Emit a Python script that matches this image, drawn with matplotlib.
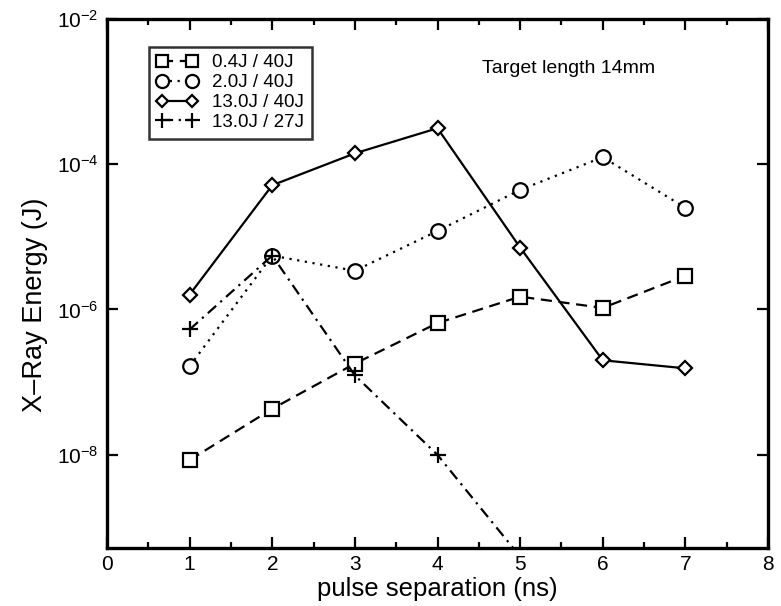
import matplotlib
matplotlib.use("Agg")
import matplotlib.pyplot as plt
from matplotlib.ticker import FixedLocator, MultipleLocator, NullLocator

plt.rcParams['font.family'] = ['Liberation Sans', 'DejaVu Sans']
plt.rcParams['mathtext.fontset'] = 'custom'
plt.rcParams['mathtext.rm'] = 'Liberation Sans'
plt.rcParams['mathtext.it'] = 'Liberation Sans:italic'

x = [1, 2, 3, 4, 5, 6, 7]
e_04_40 = [8.5e-9, 4.3e-8, 1.8e-7, 6.5e-7, 1.5e-6, 1.05e-6, 2.9e-6]
e_20_40 = [1.66e-7, 5.5e-6, 3.4e-6, 1.2e-5, 4.4e-5, 1.24e-4, 2.5e-5]
e_130_40 = [1.6e-6, 5.1e-5, 1.4e-4, 3.1e-4, 7.1e-6, 2.0e-7, 1.55e-7]
x_plus = [1, 2, 3, 4, 5]
e_130_27 = [5.3e-7, 5.5e-6, 1.24e-7, 1.0e-8, 4e-10]
labels = ['0.4J / 40J', '2.0J / 40J', '13.0J / 40J', '13.0J / 27J']

fig = plt.figure(figsize=(7.81, 6.06), dpi=100)
ax = fig.add_axes([107/781, 1 - 548/606, (768 - 107)/781, (548 - 18.5)/606])

lw = 1.6
mew = 1.6
ax.plot(x, e_04_40, linestyle=(0, (5, 3)), color='black', lw=lw, marker='s',
        ms=9.5, mfc='white', mec='black', mew=mew, label=labels[0])
ax.plot(x, e_20_40, linestyle=(0, (1, 2.5)), color='black', lw=lw, marker='o',
        ms=10.5, mfc='white', mec='black', mew=mew, label=labels[1])
ax.plot(x, e_130_40, linestyle='-', color='black', lw=lw, marker='D',
        ms=7, mfc='white', mec='black', mew=mew, label=labels[2])
ax.plot(x_plus, e_130_27, linestyle=(0, (5, 2.5, 1, 2.5)), color='black', lw=lw,
        marker='+', ms=12, mec='black', mew=mew, label=labels[3])

ax.set_yscale('log')
ax.set_xlim(0, 8)
ax.set_ylim(5.25e-10, 1e-2)
ax.xaxis.set_major_locator(MultipleLocator(1))
ax.xaxis.set_minor_locator(MultipleLocator(0.5))
ax.yaxis.set_major_locator(FixedLocator([1e-8, 1e-6, 1e-4, 1e-2]))
ax.yaxis.set_minor_locator(NullLocator())

ax.tick_params(axis='both', which='major', direction='in', length=8, width=1.6,
               top=True, right=True, labelsize=15, pad=6)
ax.tick_params(axis='x', which='major', pad=5)
ax.tick_params(axis='x', which='minor', direction='in', length=4, width=1.6,
               top=True, bottom=True)
for s in ax.spines.values():
    s.set_linewidth(2.4)

ax.set_xlabel('pulse separation (ns)', fontsize=18.5, labelpad=2)
ax.set_ylabel('X\u2013Ray Energy (J)', fontsize=19.5, labelpad=6)
ax.yaxis.set_label_coords(-0.09, 0.46)

ax.text(0.567, 0.905, 'Target length 14mm', transform=ax.transAxes, fontsize=14,
        ha='left', va='center')

leg = ax.legend(loc='upper left', bbox_to_anchor=(0.063, 0.947), numpoints=2,
                fontsize=13.5, frameon=True, fancybox=False, edgecolor='black',
                handlelength=2.2, handletextpad=0.8, borderpad=0.4,
                labelspacing=0.15, borderaxespad=0, markerscale=0.9)
leg.get_frame().set_linewidth(1.8)
for t in leg.get_texts():
    t.set_ha('right')
leg._legend_box.align = 'right'

fig.savefig('out.png', dpi=100)
